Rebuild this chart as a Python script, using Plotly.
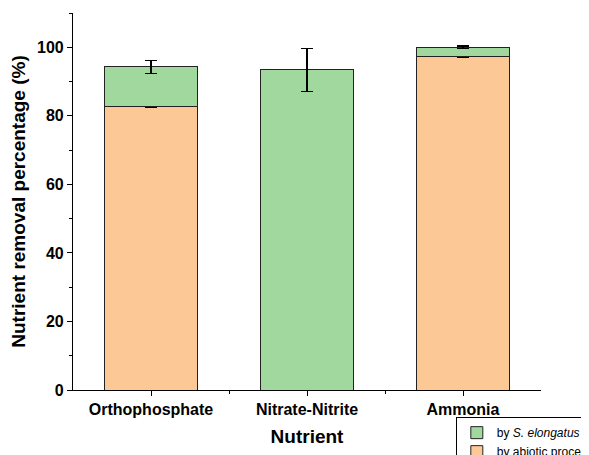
import plotly.graph_objects as go

categories = ["Orthophosphate", "Nitrate-Nitrite", "Ammonia"]
abiotic = [82.7, 0.0, 97.4]
abiotic_err = [0.2, 0.0, 0.3]
biological = [11.6, 93.4, 2.6]
biological_err = [1.9, 6.3, 0.3]
y_ticks = [0, 20, 40, 60, 80, 100]

xpos = list(range(len(categories)))
green = "#A0D89E"
orange = "#FCC896"
font_family = "Arial, Liberation Sans, sans-serif"

fig = go.Figure()
fig.add_trace(go.Bar(
    x=xpos, y=abiotic, name="by abiotic process", width=0.6,
    marker=dict(color=orange, line=dict(color="#222222", width=1)),
    error_y=dict(type="data", array=abiotic_err, color="black", thickness=1.5, width=6),
))
fig.add_trace(go.Bar(
    x=xpos, y=biological, name="by <i>S. elongatus</i>", width=0.6,
    marker=dict(color=green, line=dict(color="#222222", width=1)),
    error_y=dict(type="data", array=biological_err, color="black", thickness=1.5, width=6),
))

fig.update_layout(
    barmode="stack",
    width=589, height=455,
    margin=dict(l=65, r=56, t=5, b=73, autoexpand=False),
    paper_bgcolor="white", plot_bgcolor="white",
    font=dict(family=font_family, color="black"),
    legend=dict(
        x=0.818, y=-0.072, xanchor="left", yanchor="top",
        bordercolor="black", borderwidth=1, bgcolor="white",
        font=dict(size=12, family=font_family),
        tracegroupgap=0, itemwidth=30,
    ),
    xaxis=dict(
        range=[-0.5, 2.5], tickvals=xpos, ticktext=categories,
        showline=True, linecolor="black", linewidth=1.2,
        ticks="outside", ticklen=5, tickwidth=1.2, tickcolor="black",
        tickfont=dict(size=16, family=font_family, weight="bold"),
        minor=dict(tickmode="array", tickvals=[0.5, 1.5], ticks="outside", ticklen=3, tickwidth=1.2, tickcolor="black"),
        showgrid=False, zeroline=False, automargin=False,
        title=dict(text="<b>Nutrient</b>", font=dict(size=19, family=font_family), standoff=12),
    ),
    yaxis=dict(
        range=[0, 110], tickvals=y_ticks,
        showline=True, linecolor="black", linewidth=1.2,
        ticks="outside", ticklen=5, tickwidth=1.2, tickcolor="black",
        tickfont=dict(size=16, family=font_family, weight="bold"),
        minor=dict(dtick=10, ticks="outside", ticklen=3, tickwidth=1.2, tickcolor="black"),
        showgrid=False, zeroline=False, automargin=False,
        title=dict(text="<b>Nutrient removal percentage (%)</b>", font=dict(size=19, family=font_family), standoff=6),
    ),
)

fig.write_html("out.html")
